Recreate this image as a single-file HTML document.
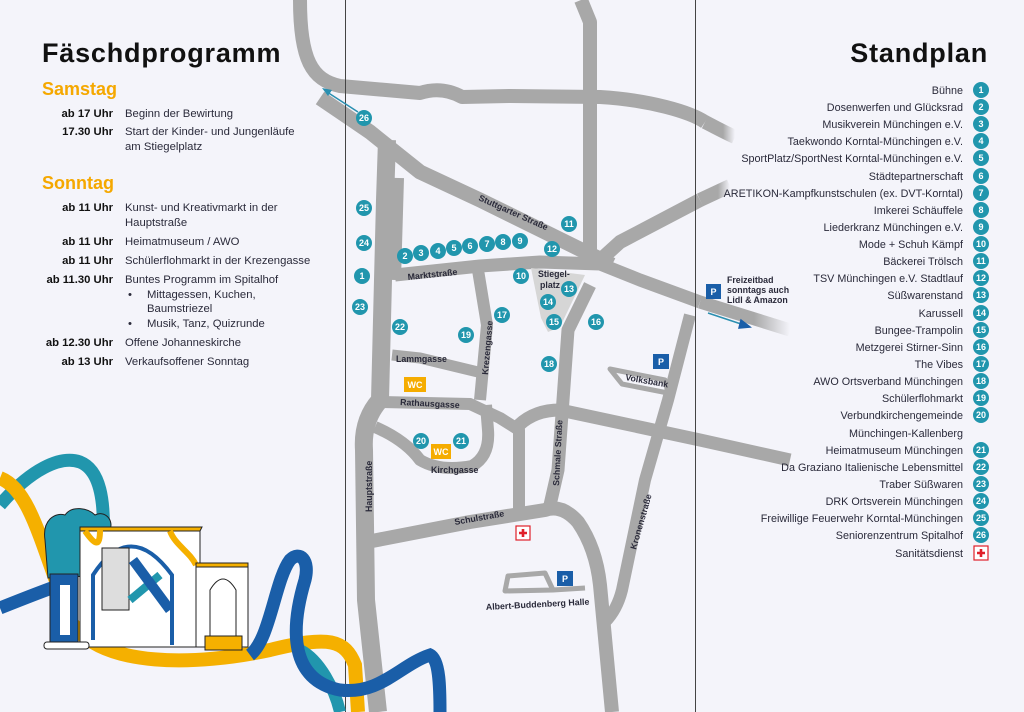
<!DOCTYPE html>
<html><head><meta charset="utf-8">
<style>
html,body{margin:0;padding:0;background:#f4f4fa;}
svg{display:block;font-family:"Liberation Sans",sans-serif;}
.t{font-size:11.3px;fill:#2a2a3a;}
.b{font-size:11.3px;font-weight:bold;fill:#111;}
.r{font-size:10.8px;fill:#2a2a3a;text-anchor:end;}
.s{font-size:8.8px;font-weight:bold;fill:#2a2a3a;}
.n{font-size:9px;font-weight:bold;fill:#fff;text-anchor:middle;}
</style></head><body>
<svg width="1024" height="712" viewBox="0 0 1024 712" xmlns="http://www.w3.org/2000/svg">
<defs>
<linearGradient id="fr" x1="0" x2="1" y1="0" y2="0"><stop offset="0" stop-color="#a8a8a8"/><stop offset="0.6" stop-color="#a8a8a8"/><stop offset="1" stop-color="#a8a8a8" stop-opacity="0"/></linearGradient>
</defs>
<rect width="1024" height="712" fill="#f4f4fa"/>
<!-- roads -->
<g fill="none" stroke="#a8a8a8" stroke-width="14" stroke-linejoin="round" stroke-linecap="butt">
<path d="M300,0 C300,60 312,80 340,86 L420,93 Q442,86 462,97 L510,96 L600,97 C650,100 690,112 705,122"/>
<path d="M705,122 C715,127 722,131 735,137" stroke="url(#fr)"/>
<path d="M320,98 L370,132 Q395,152 420,172 L480,200 L612,265" stroke-width="15"/>
<path d="M387,140 L385,200 L380,400 Q362,420 364,450 L366,600 L378,712" stroke-width="18"/>
<path d="M399,178 L396,280" stroke-width="10"/>
<path d="M395,275 L480,266 L540,262 L600,264 L640,280 L700,302" stroke-width="13"/>
<path d="M700,302 L790,330" stroke="url(#fr)" stroke-width="13"/>
<path d="M581,0 L590,22 L590,265" stroke-width="14"/>
<path d="M598,262 L620,242 L700,200"/>
<path d="M700,200 L730,186" stroke="url(#fr)"/>
<path d="M590,285 L568,330 L563,400 L558,470 L550,505" stroke-width="13"/>
<path d="M478,270 L487,325 L480,400" stroke-width="12"/>
<path d="M392,355 L420,358 L478,372" stroke-width="11"/>
<path d="M382,402 L470,404 L500,418 L519,430 L519,508" stroke-width="12"/>
<path d="M375,427 Q405,440 420,460 Q440,472 472,466 Q490,456 488,430 L486,405" stroke-width="12"/>
<path d="M519,425 Q535,410 560,410 L700,440 L790,460" stroke-width="13"/>
<path d="M690,315 L668,400 L645,480 L622,590 Q617,610 605,622" stroke-width="12"/>
<path d="M372,541 L470,522 L545,510 Q562,504 578,522 Q596,548 600,585 L612,712" stroke-width="14"/>
<path d="M508,576 L545,573 L553,590 L505,591 Z M553,590 L585,588" stroke-width="5"/>
<path d="M610,369 L665,380 L668,393 L622,384 Z" stroke-width="5"/>
</g>
<polygon points="531,268 585,275 560,327 548,332 541,318" fill="#d6d6d6"/>
<!-- frame lines -->
<line x1="345.5" y1="0" x2="345.5" y2="712" stroke="#444" stroke-width="1"/>
<line x1="695.5" y1="0" x2="695.5" y2="712" stroke="#444" stroke-width="1"/>
<!-- arrows -->
<g stroke="#2a8fb0" stroke-width="1.5" fill="#2a8fb0">
<line x1="358" y1="112" x2="327" y2="92"/><polygon points="322,88 332,90 328,96" stroke="none"/>
<line x1="708" y1="313" x2="744" y2="325"/><polygon points="750,327 741,320 739,328" stroke="#1a5ea8" fill="#1a5ea8"/>
</g>
<!-- street labels -->
<text class="s" transform="translate(478,200) rotate(24)">Stuttgarter Straße</text>
<text class="s" transform="translate(408,280) rotate(-6)">Marktstraße</text>
<text class="s" x="396" y="362">Lammgasse</text>
<text class="s" transform="translate(400,405) rotate(3)">Rathausgasse</text>
<text class="s" x="431" y="473">Kirchgasse</text>
<text class="s" transform="translate(488,375) rotate(-85)">Krezengasse</text>
<text class="s" transform="translate(372,512) rotate(-90)">Hauptstraße</text>
<text class="s" transform="translate(559,486) rotate(-87)">Schmale Straße</text>
<text class="s" transform="translate(636,550) rotate(-74)">Kronenstraße</text>
<text class="s" transform="translate(455,525) rotate(-10)">Schulstraße</text>
<text class="s" transform="translate(486,610) rotate(-3)">Albert-Buddenberg Halle</text>
<text class="s" transform="translate(625,380) rotate(10)">Volksbank</text>
<text class="s" x="538" y="277">Stiegel-</text><text class="s" x="540" y="288">platz</text>
<text class="s" x="727" y="283" font-size="8">Freizeitbad</text>
<text class="s" x="727" y="293" font-size="8">sonntags auch</text>
<text class="s" x="727" y="303" font-size="8">Lidl &amp; Amazon</text>
<rect x="706" y="284" width="15" height="15" fill="#1a5ea8"/><text class="n" x="713.5" y="295">P</text>
<!-- WC / P / cross -->
<rect x="404" y="377" width="22" height="15" fill="#f5ac00"/><text class="n" x="415" y="388">WC</text>
<rect x="431" y="444" width="20" height="15" fill="#f5ac00"/><text class="n" x="441" y="455">WC</text>
<rect x="653" y="354" width="16" height="15" fill="#1a5ea8"/><text class="n" x="661" y="365">P</text>
<rect x="557" y="571" width="16" height="15" fill="#1a5ea8"/><text class="n" x="565" y="582">P</text>
<rect x="516" y="526" width="14" height="14" fill="#fff" stroke="#e0202a" stroke-width="1.2"/>
<path d="M523,529 V537 M519,533 H527" stroke="#e0202a" stroke-width="2.6"/>
<!-- numbered circles on map -->
<g fill="#2196ad">
<circle cx="364" cy="118" r="8"/><circle cx="364" cy="208" r="8"/><circle cx="364" cy="243" r="8"/><circle cx="362" cy="276" r="8"/><circle cx="360" cy="307" r="8"/>
<circle cx="405" cy="256" r="8"/><circle cx="421" cy="253" r="8"/><circle cx="438" cy="251" r="8"/><circle cx="454" cy="248" r="8"/><circle cx="470" cy="246" r="8"/><circle cx="487" cy="244" r="8"/><circle cx="503" cy="242" r="8"/><circle cx="520" cy="241" r="8"/>
<circle cx="569" cy="224" r="8"/><circle cx="552" cy="249" r="8"/><circle cx="521" cy="276" r="8"/><circle cx="569" cy="289" r="8"/><circle cx="548" cy="302" r="8"/><circle cx="554" cy="322" r="8"/><circle cx="596" cy="322" r="8"/><circle cx="502" cy="315" r="8"/><circle cx="466" cy="335" r="8"/><circle cx="400" cy="327" r="8"/><circle cx="549" cy="364" r="8"/><circle cx="421" cy="441" r="8"/><circle cx="461" cy="441" r="8"/>
</g>
<g>
<text class="n" x="364" y="121">26</text><text class="n" x="364" y="211">25</text><text class="n" x="364" y="246">24</text><text class="n" x="362" y="279">1</text><text class="n" x="360" y="310">23</text>
<text class="n" x="405" y="259">2</text><text class="n" x="421" y="256">3</text><text class="n" x="438" y="254">4</text><text class="n" x="454" y="251">5</text><text class="n" x="470" y="249">6</text><text class="n" x="487" y="247">7</text><text class="n" x="503" y="245">8</text><text class="n" x="520" y="244">9</text>
<text class="n" x="569" y="227">11</text><text class="n" x="552" y="252">12</text><text class="n" x="521" y="279">10</text><text class="n" x="569" y="292">13</text><text class="n" x="548" y="305">14</text><text class="n" x="554" y="325">15</text><text class="n" x="596" y="325">16</text><text class="n" x="502" y="318">17</text><text class="n" x="466" y="338">19</text><text class="n" x="400" y="330">22</text><text class="n" x="549" y="367">18</text><text class="n" x="421" y="444">20</text><text class="n" x="461" y="444">21</text>
</g>
<!-- left program -->
<text x="42" y="62" font-size="27" font-weight="bold" fill="#111" letter-spacing="0.8">Fäschdprogramm</text>
<text x="42" y="95" font-size="18" font-weight="bold" fill="#f5a800">Samstag</text>
<text x="42" y="189" font-size="18" font-weight="bold" fill="#f5a800">Sonntag</text>
<g>
<text class="b" x="113" y="117" text-anchor="end">ab 17 Uhr</text>
<text class="b" x="113" y="135" text-anchor="end">17.30 Uhr</text>
<text class="b" x="113" y="211" text-anchor="end">ab 11 Uhr</text>
<text class="b" x="113" y="245" text-anchor="end">ab 11 Uhr</text>
<text class="b" x="113" y="264" text-anchor="end">ab 11 Uhr</text>
<text class="b" x="113" y="283" text-anchor="end">ab 11.30 Uhr</text>
<text class="b" x="113" y="346" text-anchor="end">ab 12.30 Uhr</text>
<text class="b" x="113" y="365" text-anchor="end">ab 13 Uhr</text>
</g>
<text class="t" x="125" y="117">Beginn der Bewirtung</text>
<text class="t" x="125" y="135">Start der Kinder- und Jungenläufe</text>
<text class="t" x="125" y="150">am Stiegelplatz</text>
<text class="t" x="125" y="211">Kunst- und Kreativmarkt in der</text>
<text class="t" x="125" y="226">Hauptstraße</text>
<text class="t" x="125" y="245">Heimatmuseum / AWO</text>
<text class="t" x="125" y="264">Schülerflohmarkt in der Krezengasse</text>
<text class="t" x="125" y="283">Buntes Programm im Spitalhof</text>
<text class="t" x="128" y="298">•</text><text class="t" x="147" y="298">Mittagessen, Kuchen,</text>
<text class="t" x="147" y="312">Baumstriezel</text>
<text class="t" x="128" y="327">•</text><text class="t" x="147" y="327">Musik, Tanz, Quizrunde</text>
<text class="t" x="125" y="346">Offene Johanneskirche</text>
<text class="t" x="125" y="365">Verkaufsoffener Sonntag</text>
<!-- right list -->
<text x="988" y="62" font-size="27" font-weight="bold" fill="#111" text-anchor="end" letter-spacing="0.8">Standplan</text>
<g>
<text class="r" x="963" y="94">Bühne</text>
<text class="r" x="963" y="111">Dosenwerfen und Glücksrad</text>
<text class="r" x="963" y="128">Musikverein Münchingen e.V.</text>
<text class="r" x="963" y="145">Taekwondo Korntal-Münchingen e.V.</text>
<text class="r" x="963" y="162">SportPlatz/SportNest Korntal-Münchingen e.V.</text>
<text class="r" x="963" y="180">Städtepartnerschaft</text>
<text class="r" x="963" y="197">ARETIKON-Kampfkunstschulen (ex. DVT-Korntal)</text>
<text class="r" x="963" y="214">Imkerei Schäuffele</text>
<text class="r" x="963" y="231">Liederkranz Münchingen e.V.</text>
<text class="r" x="963" y="248">Mode + Schuh Kämpf</text>
<text class="r" x="963" y="265">Bäckerei Trölsch</text>
<text class="r" x="963" y="282">TSV Münchingen e.V. Stadtlauf</text>
<text class="r" x="963" y="299">Süßwarenstand</text>
<text class="r" x="963" y="317">Karussell</text>
<text class="r" x="963" y="334">Bungee-Trampolin</text>
<text class="r" x="963" y="351">Metzgerei Stirner-Sinn</text>
<text class="r" x="963" y="368">The Vibes</text>
<text class="r" x="963" y="385">AWO Ortsverband Münchingen</text>
<text class="r" x="963" y="402">Schülerflohmarkt</text>
<text class="r" x="963" y="419">Verbundkirchengemeinde</text>
<text class="r" x="963" y="437">Münchingen-Kallenberg</text>
<text class="r" x="963" y="454">Heimatmuseum Münchingen</text>
<text class="r" x="963" y="471">Da Graziano Italienische Lebensmittel</text>
<text class="r" x="963" y="488">Traber Süßwaren</text>
<text class="r" x="963" y="505">DRK Ortsverein Münchingen</text>
<text class="r" x="963" y="522">Freiwillige Feuerwehr Korntal-Münchingen</text>
<text class="r" x="963" y="539">Seniorenzentrum Spitalhof</text>
<text class="r" x="963" y="557">Sanitätsdienst</text>
</g>
<g fill="#2196ad">
<circle cx="981" cy="90" r="8"/><circle cx="981" cy="107" r="8"/><circle cx="981" cy="124" r="8"/><circle cx="981" cy="141" r="8"/><circle cx="981" cy="158" r="8"/><circle cx="981" cy="176" r="8"/><circle cx="981" cy="193" r="8"/><circle cx="981" cy="210" r="8"/><circle cx="981" cy="227" r="8"/><circle cx="981" cy="244" r="8"/><circle cx="981" cy="261" r="8"/><circle cx="981" cy="278" r="8"/><circle cx="981" cy="295" r="8"/><circle cx="981" cy="313" r="8"/><circle cx="981" cy="330" r="8"/><circle cx="981" cy="347" r="8"/><circle cx="981" cy="364" r="8"/><circle cx="981" cy="381" r="8"/><circle cx="981" cy="398" r="8"/><circle cx="981" cy="415" r="8"/><circle cx="981" cy="450" r="8"/><circle cx="981" cy="467" r="8"/><circle cx="981" cy="484" r="8"/><circle cx="981" cy="501" r="8"/><circle cx="981" cy="518" r="8"/><circle cx="981" cy="535" r="8"/>
</g>
<g>
<text class="n" x="981" y="93">1</text><text class="n" x="981" y="110">2</text><text class="n" x="981" y="127">3</text><text class="n" x="981" y="144">4</text><text class="n" x="981" y="161">5</text><text class="n" x="981" y="179">6</text><text class="n" x="981" y="196">7</text><text class="n" x="981" y="213">8</text><text class="n" x="981" y="230">9</text><text class="n" x="981" y="247">10</text><text class="n" x="981" y="264">11</text><text class="n" x="981" y="281">12</text><text class="n" x="981" y="298">13</text><text class="n" x="981" y="316">14</text><text class="n" x="981" y="333">15</text><text class="n" x="981" y="350">16</text><text class="n" x="981" y="367">17</text><text class="n" x="981" y="384">18</text><text class="n" x="981" y="401">19</text><text class="n" x="981" y="418">20</text><text class="n" x="981" y="453">21</text><text class="n" x="981" y="470">22</text><text class="n" x="981" y="487">23</text><text class="n" x="981" y="504">24</text><text class="n" x="981" y="521">25</text><text class="n" x="981" y="538">26</text>
</g>
<rect x="974" y="546" width="14" height="14" fill="#fff" stroke="#e0202a" stroke-width="1.2"/>
<path d="M981,549 V557 M977,553 H985" stroke="#e0202a" stroke-width="2.6"/>
<!-- ribbons illustration -->
<g fill="none" stroke-linecap="butt">
<path d="M0,505 C30,470 60,455 80,462 C100,470 105,500 103,540" stroke="#2196ad" stroke-width="13"/>
<path d="M0,478 C30,490 40,540 70,620 C100,670 200,665 270,650 C330,635 345,640 355,665 L358,712" stroke="#f5b000" stroke-width="14"/>
<path d="M0,608 C20,600 40,592 60,585" stroke="#1a5ea8" stroke-width="13"/>
<path d="M300,650 C320,660 335,690 340,712" stroke="#2196ad" stroke-width="12"/>
<path d="M250,655 C270,640 275,580 290,560 C300,550 310,560 305,580 C290,630 290,680 340,690 C380,695 400,665 430,655 C440,660 440,690 440,712" stroke="#1a5ea8" stroke-width="13"/>
</g>
<!-- building -->
<g stroke="#222" stroke-width="1" fill="#fff">
<path d="M45,540 C42,520 55,512 65,515 C72,505 88,508 95,515 C105,510 114,520 110,530 L110,575 L48,578 Z" fill="#2196ad"/>
<rect x="80" y="527" width="120" height="120"/>
<path d="M80,527 H202 L200,531 H80 Z" fill="#f5b000"/>
<path d="M85,531 C95,545 100,548 100,530 M170,531 C175,545 190,552 196,565" stroke="#f5b000" stroke-width="6" fill="none"/>
<rect x="196" y="565" width="52" height="82"/>
<rect x="196" y="563" width="52" height="4" fill="#f5b000"/>
<path d="M93,640 L93,575 Q130,518 172,575 L172,645" fill="#fff" stroke="#1a5ea8" stroke-width="4"/>
<rect x="102" y="548" width="27" height="62" fill="#ddd"/>
<path d="M130,600 L160,575" stroke="#2196ad" stroke-width="8"/>
<path d="M133,560 L170,610" stroke="#1a5ea8" stroke-width="10"/>
<path d="M210,642 L210,590 Q223,568 236,590 L236,642 Z"/>
<path d="M205,636 L242,636 L242,650 L205,650 Z" fill="#f5b000"/>
<rect x="50" y="574" width="28" height="72" fill="#1a5ea8"/>
<rect x="60" y="585" width="10" height="50" fill="#fff" stroke="none"/>
<rect x="44" y="642" width="45" height="7" rx="3"/>
</g>
</svg>
</body></html>
